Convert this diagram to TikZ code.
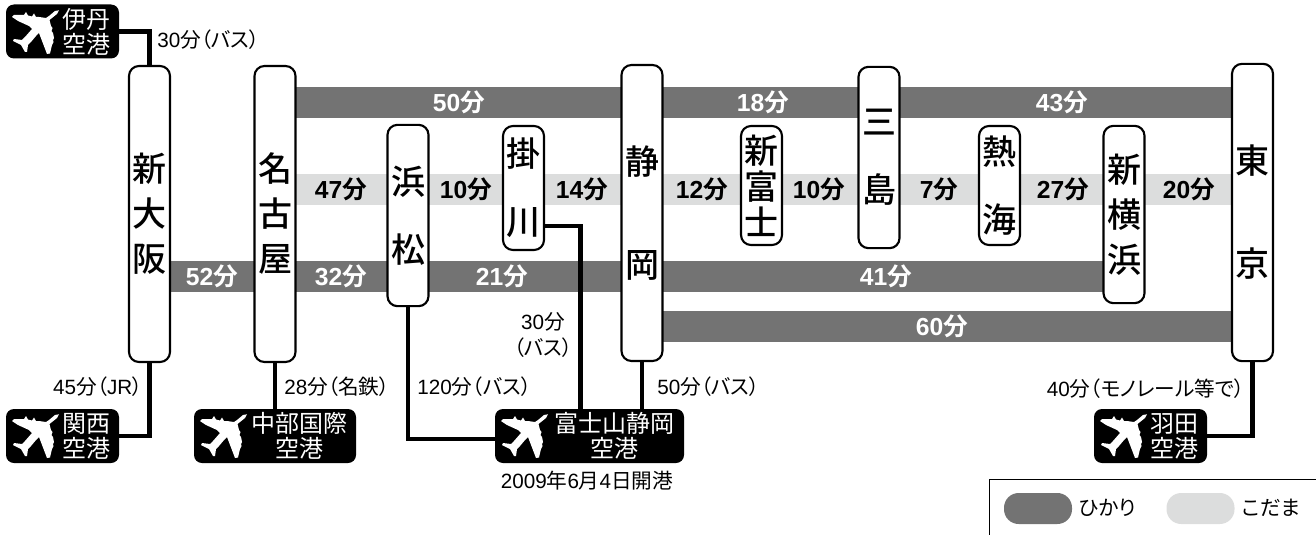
\documentclass[tikz,border=0pt]{standalone}
\usepackage{fontspec}
\setmainfont{Liberation Sans}
\newfontfamily\jp[BoldFont={Noto Sans CJK JP Bold},RawFeature={+palt}]{Noto Sans CJK JP}
\newfontfamily\jpm{Noto Sans CJK JP Medium}
\usetikzlibrary{backgrounds}
\definecolor{hikaricol}{HTML}{737373}
\definecolor{kodamacol}{HTML}{DCDDDD}
\newcommand{\mins}[1]{\bfseries #1{\jp 分}}
\tikzset{
station/.style={draw, fill=white, line width=1.6pt, rounded corners=7.5pt, inner sep=0pt, minimum width=30.75pt, align=center},
gap/.style={font=\jpm\fontsize{25.5}{#1}\selectfont},
airport/.style={fill=black, text=white, rounded corners=6pt, inner sep=0pt, minimum height=40.5pt, align=center, font=\jp\fontsize{18}{18.75}\selectfont},
hikari/.style={draw=hikaricol, line width=23.25pt},
kodama/.style={draw=kodamacol, line width=23.25pt},
link/.style={draw=black, line width=3.7pt},
whitetime/.style={text=white, font=\fontsize{18.5}{20}\selectfont},
blacktime/.style={font=\fontsize{18.5}{20}\selectfont},
note/.style={inner sep=0pt, font=\fontsize{15.5}{19.5}\selectfont, align=center},
pill/.style={fill=#1, rounded corners=11pt, minimum width=51pt, minimum height=23.25pt, inner sep=0pt},
plane/.pic={
\fill[white] (26,-21.7) -- (22,-21) -- (16,-16) -- (13,-14) -- (6,-15) -- (3,-15) -- (1,-18.5) -- (-1,-15.5) -- (-5,-16.5) -- (-7,-20) -- (-9,-17) -- (-19,-17) -- (-21,-15) -- (-15,-11) -- (-4,-6) -- (-1,-3)
-- (-8,5) -- (-11,8) -- (-19,7) -- (-20,9) -- (-12,13) -- (-8,20) -- (-6,20) -- (-5,13) -- (-2,10) -- (3,4) -- (6,1) -- (14,22) -- (17,21.5) -- (19,13) -- (20.5,10) -- (20,8) -- (21,6) -- (20,1) -- (18.5,-1) -- (19.5,-4) -- (18,-6) -- (16.5,-12) -- (24,-18) -- cycle;
}
}
\begin{document}
\begin{tikzpicture}[x=0.75pt,y=-0.75pt]
\useasboundingbox (0,0) rectangle (1316,535);
%Stations:
\node (shinosaka) [station, gap=33.75, minimum height=222pt] at (149.5,214) {新\\大\\阪};
\node (nagoya) [station, gap=33.75, minimum height=222pt] at (275,214) {名\\古\\屋};
\node (hamamatsu) [station, gap=51, minimum height=136pt] at (408,215.5) {浜\\松};
\node (kakegawa) [station, gap=51, minimum height=93pt] at (523.5,188) {掛\\川};
\node (shizuoka) [station, gap=77.25, minimum height=222pt] at (642,213) {静\\岡};
\node (shinfuji) [station, gap=27, minimum height=89.25pt] at (761.5,185.5) {新\\富\\士};
\node (mishima) [station, gap=51, minimum height=136pt] at (879,157.5) {三\\島};
\node (atami) [station, gap=51, minimum height=89.25pt] at (999.5,185.5) {熱\\海};
\node (shinyokohama) [station, gap=33.75, minimum height=133pt] at (1124,214.5) {新\\横\\浜};
\node (tokyo) [station, gap=77.25, minimum height=223pt] at (1252.5,212.5) {東\\京};
%Airports:
\node (itami) [airport, minimum width=84.75pt] at (62.5,31.5) {};
\node (kansai) [airport, minimum width=84.75pt] at (62.5,436) {};
\node (chubu) [airport, minimum width=121.5pt] at (275,436) {};
\node (fujisan) [airport, minimum width=141.75pt] at (589.5,436) {};
\node (haneda) [airport, minimum width=84.75pt] at (1150.5,436) {};
\node (itamitext) [airport, fill=none] at (86.5,31.5) {伊丹\\空港};
\node (kansaitext) [airport, fill=none] at (86.5,436) {関西\\空港};
\node (chubutext) [airport, fill=none] at (299.5,436) {中部国際\\空港};
\node (fujisantext) [airport, fill=none] at (614,436) {富士山静岡\\空港};
\node (hanedatext) [airport, fill=none] at (1174.5,436) {羽田\\空港};
\pic at (33,32) {plane};
\pic at (33,436) {plane};
\pic at (221,436) {plane};
\pic at (522,436) {plane};
\pic at (1121,436) {plane};
%Lines:
\coordinate (rowa) at (0,102.5);
\coordinate (rowb) at (0,189.5);
\coordinate (rowc) at (0,276.5);
\coordinate (rowd) at (0,326.5);
\begin{pgfonlayer}{background}
\path [hikari] (nagoya |- rowa) edge (tokyo |- rowa);
\path [kodama] (nagoya |- rowb) edge (tokyo |- rowb);
\path [hikari] (shinosaka |- rowc) edge (shinyokohama |- rowc);
\path [hikari] (shizuoka |- rowd) edge (tokyo |- rowd);
\end{pgfonlayer}
%Airport links:
\coordinate (kakeout) at (545,226);
\draw [link] (itami.east) -| (shinosaka.north);
\draw [link] (shinosaka.south) |- (kansai.east);
\draw [link] (nagoya.south) -- (chubu.north);
\draw [link] (hamamatsu.south) |- ([yshift=-2.25pt]fujisan.west);
\draw [link] (kakeout) -| ([xshift=-6.5pt]fujisan.north);
\draw [link] (shizuoka.south) -- (shizuoka.south |- fujisan.north);
\draw [link] (tokyo.south) |- (haneda.east);
%Times:
\node (t50) [whitetime] at (459,102.5) {\mins{50}};
\node (t18) [whitetime] at (763,102.5) {\mins{18}};
\node (t43) [whitetime] at (1062,102.5) {\mins{43}};
\node (t47) [blacktime] at (341,189.5) {\mins{47}};
\node (t10a) [blacktime] at (466,189.5) {\mins{10}};
\node (t14) [blacktime] at (582,189.5) {\mins{14}};
\node (t12) [blacktime] at (702,189.5) {\mins{12}};
\node (t10b) [blacktime] at (819,189.5) {\mins{10}};
\node (t7) [blacktime] at (939,189.5) {\mins{7}};
\node (t27) [blacktime] at (1063,189.5) {\mins{27}};
\node (t20) [blacktime] at (1189,189.5) {\mins{20}};
\node (t52) [whitetime] at (212,276.5) {\mins{52}};
\node (t32) [whitetime] at (341,276.5) {\mins{32}};
\node (t21) [whitetime] at (502,276.5) {\mins{21}};
\node (t41) [whitetime] at (886,276.5) {\mins{41}};
\node (t60) [whitetime] at (942,326.5) {\mins{60}};
%Notes:
\node (nitami) [note, anchor=west] at (157,40) {30{\jp 分（バス）}};
\node (nkansai) [note, anchor=east] at (143,387) {45{\jp 分（}JR{\jp ）}};
\node (nchubu) [note, anchor=west] at (284,387) {28{\jp 分（名鉄）}};
\node (nhama) [note, anchor=west] at (417,387) {120{\jp 分（バス）}};
\node (nkake) [note] at (543,335) {30{\jp 分}\\{\jp（バス）}};
\node (nshizu) [note, anchor=west] at (657,387) {50{\jp 分（バス）}};
\node (nopen) [note] at (587,481) {2009{\jp 年}6{\jp 月}4{\jp 日開港}};
\node (nhaneda) [note, anchor=east] at (1245,389) {40{\jp 分（モノレール等で）}};
%Legend:
\coordinate (legtr) at (1316,479.5);
\coordinate (legbl) at (989.5,535);
\draw [line width=0.75pt] (legtr) -| (legbl);
\node (leghikari) [pill=hikaricol] at (1038,508.5) {};
\node (legkodama) [pill=kodamacol] at (1200.5,508.5) {};
\node (ltxthikari) [note, anchor=west] at (1079,508) {\jp ひかり};
\node (ltxtkodama) [note, anchor=west] at (1242,508) {\jp こだま};
\end{tikzpicture}
\end{document}
